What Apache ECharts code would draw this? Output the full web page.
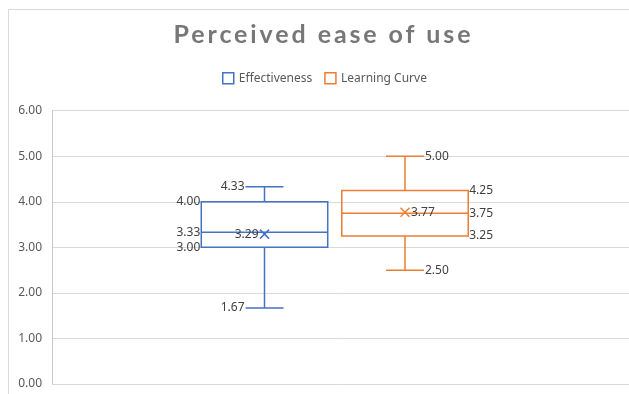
<!DOCTYPE html>
<html><head><meta charset="utf-8">
<script src="https://cdn.jsdelivr.net/npm/echarts@6/dist/echarts.min.js"></script>
<style>html,body{margin:0;padding:0;background:#fff}#c{width:629px;height:394px}</style>
</head><body><div id="c"></div>
<script>
const seriesNames = ['Effectiveness', 'Learning Curve'];
const slots = ['pad-left', 'Effectiveness', 'Learning Curve', 'pad-right'];
// [min, Q1, median, Q3, max]
const effectivenessBox = [1.67, 3.00, 3.33, 4.00, 4.33];
const learningCurveBox = [2.50, 3.25, 3.75, 4.25, 5.00];
const effectivenessMean = 3.29;
const learningCurveMean = 3.77;
const yMin = 0, yMax = 6, yStep = 1;
const colors = ['#4472C4', '#ED7D31'];

const LABEL_FONT = '12px "Noto Sans"';
const LABEL_COLOR = '#404040';

// Excel-style expanded character spacing for the chart title only
(function () {
  const proto = CanvasRenderingContext2D.prototype;
  const orig = proto.fillText;
  proto.fillText = function () {
    if (this.font && this.font.indexOf('Lato') >= 0 && 'letterSpacing' in this) {
      const prev = this.letterSpacing;
      this.letterSpacing = '2.9px';
      orig.apply(this, arguments);
      this.letterSpacing = prev;
      return;
    }
    return orig.apply(this, arguments);
  };
})();

function makeRender(color, side) {
  return function (params, api) {
    const xi = api.value(0);
    const v = [1, 2, 3, 4, 5].map(i => api.value(i));
    const mean = api.value(6);
    const band = api.size([1, 0])[0];
    const boxW = band * 0.9, capW = band * 0.27;
    const P = val => api.coord([xi, val]);
    const cx = P(v[0])[0];
    const y = v.map(val => P(val)[1]);
    const ym = P(mean)[1];
    const ls = { stroke: color, lineWidth: 1.5, fill: 'none' };
    const line = (x1, y1, x2, y2) => ({ type: 'line', shape: { x1, y1, x2, y2 }, style: ls });
    const children = [];
    children.push({ type: 'rect', shape: { x: cx - boxW / 2, y: y[3], width: boxW, height: y[1] - y[3] }, style: ls });
    children.push(line(cx - boxW / 2, y[2], cx + boxW / 2, y[2]));
    children.push(line(cx, y[3], cx, y[4]));
    children.push(line(cx, y[1], cx, y[0]));
    children.push(line(cx - capW / 2, y[4], cx + capW / 2, y[4]));
    children.push(line(cx - capW / 2, y[0], cx + capW / 2, y[0]));
    const m = 4.5;
    children.push(line(cx - m, ym - m, cx + m, ym + m));
    children.push(line(cx - m, ym + m, cx + m, ym - m));
    const dir = side === 'left' ? -1 : 1;
    const align = side === 'left' ? 'right' : 'left';
    const txt = (x, yy, val) => ({ type: 'text', style: { text: val.toFixed(2), x, y: yy, align, verticalAlign: 'middle', fill: LABEL_COLOR, font: LABEL_FONT } });
    children.push(txt(cx + dir * (capW / 2 + 1), y[4], v[4]));
    children.push(txt(cx + dir * (capW / 2 + 1), y[0], v[0]));
    children.push(txt(cx + dir * (boxW / 2 + 1), y[3], v[3]));
    children.push(txt(cx + dir * (boxW / 2 + 1), y[2], v[2]));
    children.push(txt(cx + dir * (boxW / 2 + 1), y[1], v[1]));
    children.push(txt(cx + dir * 6, ym, mean));
    return { type: 'group', children };
  };
}

const chart = echarts.init(document.getElementById('c'));
chart.setOption({
  animation: false,
  title: {
    text: 'Perceived ease of use', left: 323.5, textAlign: 'center', top: 22, padding: 0,
    textStyle: { fontFamily: 'Lato', fontWeight: 'bold', fontSize: 25, lineHeight: 25, color: '#777777' }
  },
  legend: {
    left: 222, top: 72, padding: 0, itemWidth: 11, itemHeight: 11, itemGap: 12,
    textStyle: { fontFamily: 'Noto Sans', fontSize: 12, color: '#595959' },
    data: seriesNames.map((n, i) => ({ name: n, icon: 'rect', itemStyle: { color: '#fff', borderColor: colors[i], borderWidth: 1.5 } }))
  },
  graphic: [{ type: 'rect', shape: { x: 8.5, y: 9.5, width: 700, height: 500 }, style: { fill: 'none', stroke: '#d9d9d9', lineWidth: 1 }, z: -10, silent: true }],
  grid: [
    { left: 52, right: -40, top: 110.7, bottom: 10 },
    { left: 53.75, width: 562, top: 110.7, bottom: 10 }
  ],
  xAxis: [
    { gridIndex: 0, type: 'value', show: false },
    { gridIndex: 1, type: 'category', data: slots, show: false }
  ],
  yAxis: [
    { gridIndex: 0, type: 'value', min: yMin, max: yMax, interval: yStep,
      axisLine: { show: true, lineStyle: { color: '#c8c8c8', width: 1 } },
      axisTick: { show: false },
      axisLabel: { margin: 10, color: '#595959', fontFamily: 'Noto Sans', fontSize: 12, formatter: v => v.toFixed(2) },
      splitLine: { show: true, lineStyle: { color: '#d9d9d9', width: 1 } } },
    { gridIndex: 1, type: 'value', min: yMin, max: yMax, interval: yStep, show: false, splitLine: { show: false } }
  ],
  series: [
    { name: seriesNames[0], type: 'custom', xAxisIndex: 1, yAxisIndex: 1, clip: false,
      itemStyle: { color: colors[0] },
      encode: { x: 0, y: [1, 2, 3, 4, 5, 6] },
      data: [[slots[1], ...effectivenessBox, effectivenessMean]],
      renderItem: makeRender(colors[0], 'left') },
    { name: seriesNames[1], type: 'custom', xAxisIndex: 1, yAxisIndex: 1, clip: false,
      itemStyle: { color: colors[1] },
      encode: { x: 0, y: [1, 2, 3, 4, 5, 6] },
      data: [[slots[2], ...learningCurveBox, learningCurveMean]],
      renderItem: makeRender(colors[1], 'right') }
  ]
});
</script></body></html>
